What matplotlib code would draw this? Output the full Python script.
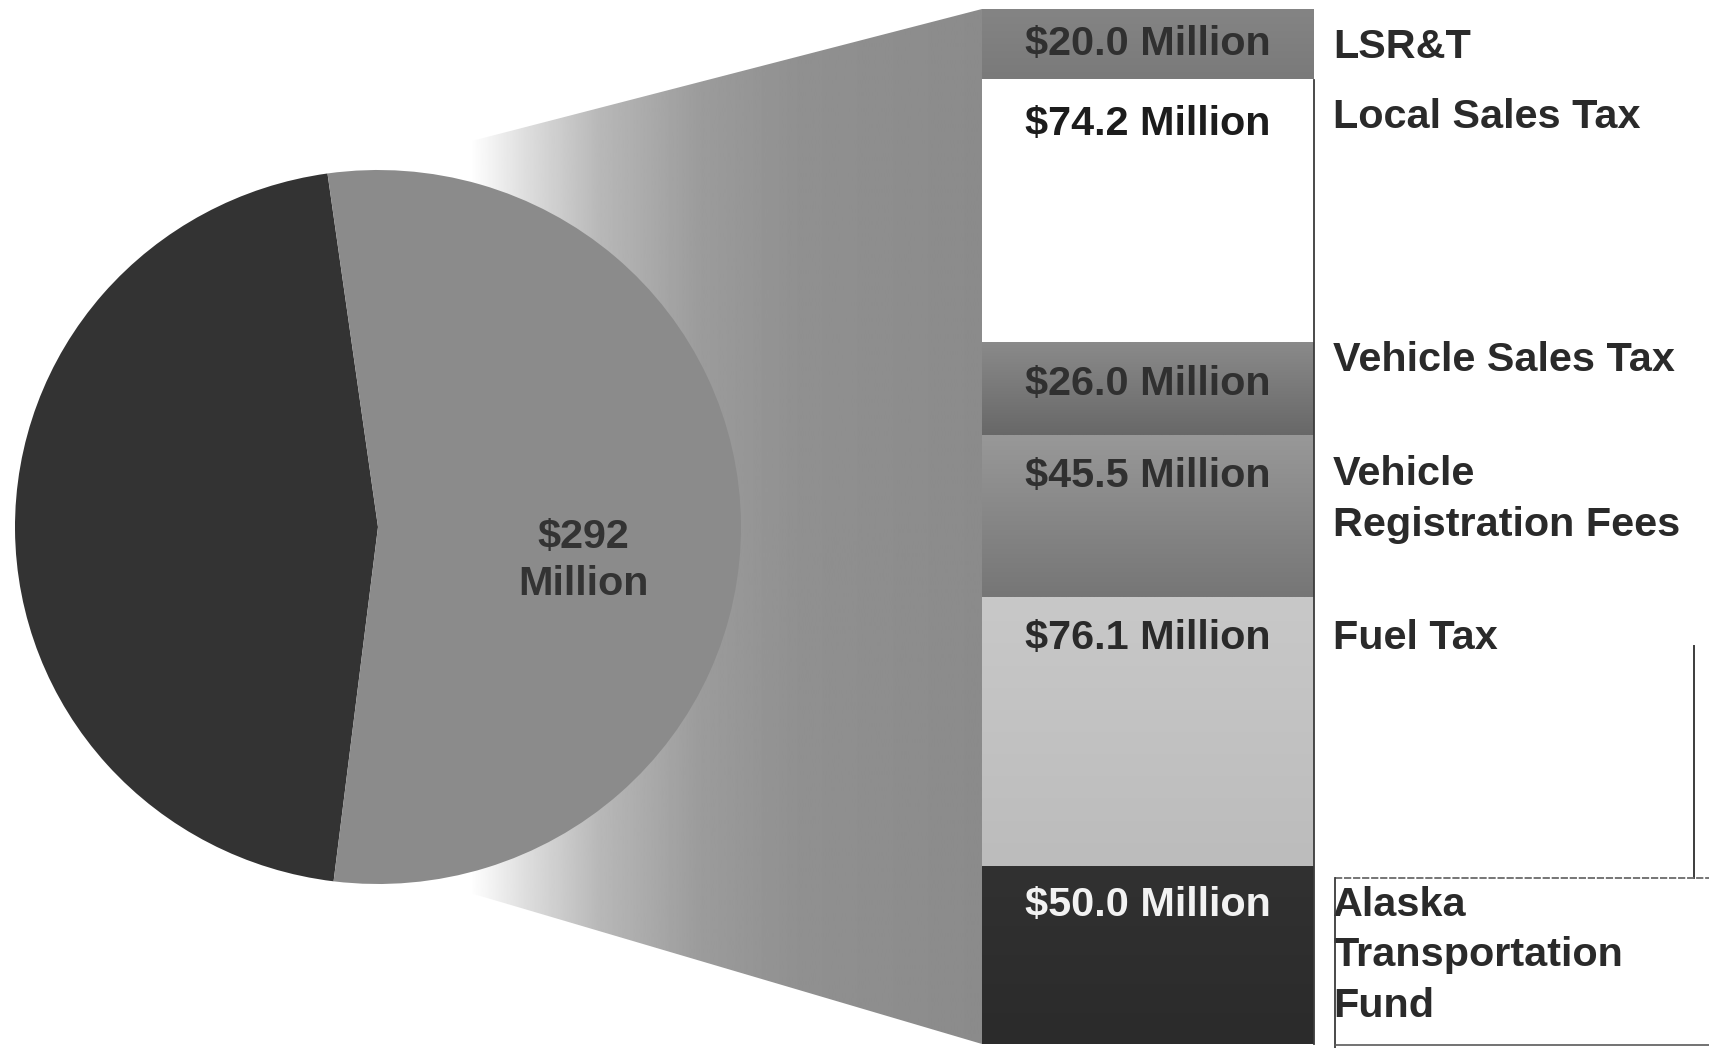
import numpy as np
import matplotlib
matplotlib.use("Agg")
import matplotlib.pyplot as plt
from matplotlib.patches import Polygon
from matplotlib.colors import to_rgb

plt.rcParams['font.family'] = ['Liberation Sans', 'DejaVu Sans']
plt.rcParams['font.weight'] = 'bold'

# ---- data (millions of dollars) ----
pie_values = [247, 292]
pie_label = "$292\nMillion"

categories = ["LSR&T", "Local Sales Tax", "Vehicle Sales Tax",
              "Vehicle\nRegistration Fees", "Fuel Tax",
              "Alaska\nTransportation\nFund"]
amounts = [20.0, 74.2, 26.0, 45.5, 76.1, 50.0]
amount_labels = ["$20.0 Million", "$74.2 Million", "$26.0 Million",
                 "$45.5 Million", "$76.1 Million", "$50.0 Million"]

# ---- styling ----
seg_top = ['#848484', '#ffffff', '#8a8a8a', '#989898', '#c8c8c8', '#313131']
seg_bot = ['#7a7a7a', '#ffffff', '#686868', '#767676', '#bcbcbc', '#2b2b2b']
value_colors = ['#303030', '#1c1c1c', '#303030', '#303030', '#2a2a2a', '#f2f2f2']
value_offset_px = [35, 44, 41, 41, 41, 38]      # label centre below segment top
name_offset_px = [38, 37, 17, 39, 41, 38]
line_gap_px = 50.5
FS = 29.8

W, H = 1709, 1048
fig = plt.figure(figsize=(W / 100, H / 100), dpi=100, facecolor='white')


def box(x0, y0, x1, y1):
    return [x0 / W, 1 - y1 / H, (x1 - x0) / W, (y1 - y0) / H]


# ---- background: shaded fan between pie and bar ----
bg = fig.add_axes([0, 0, 1, 1], zorder=0)
fan = Polygon([(460, 144), (982, 9), (982, 1044), (460, 890)], closed=True,
              facecolor='none', edgecolor='none')
bg.add_patch(fan)
xs = np.linspace(460, 982, 500)
shade = np.interp(xs, [470, 525, 600, 700, 800, 982],
                  [1.0, 0.87, 0.72, 0.61, 0.565, 0.545])
img = bg.imshow(shade[None, :], extent=[460, 982, 1044, 9], cmap='gray',
                vmin=0, vmax=1, aspect='auto', interpolation='bilinear')
img.set_clip_path(fan)
bg.set_xlim(0, W)
bg.set_ylim(H, 0)
bg.axis('off')

# ---- pie ----
pie_ax = fig.add_axes(box(378 - 363, 527 - 357, 378 + 363, 527 + 357), zorder=1)
pie_ax.pie(pie_values, colors=['#333333', '#8b8b8b'], startangle=98.0,
           counterclock=True, wedgeprops=dict(linewidth=0))
pie_ax.set_aspect('auto')
pie_ax.set_xlim(-1, 1)
pie_ax.set_ylim(-1, 1)
pie_ax.axis('off')
pie_ax.text(0.565, -0.095, pie_label, ha='center', va='center', fontsize=FS,
            fontweight='bold', color='#333333', linespacing=1.3)

# ---- stacked bar ----
bar_ax = fig.add_axes(box(982, 9, 1314, 1044), zorder=2)
total = sum(amounts)
bottoms = np.concatenate([[0], np.cumsum(amounts)[:-1]])
bars = bar_ax.bar(0, amounts, width=1.0, bottom=bottoms, color=seg_top,
                  linewidth=0)
for rect, c0, c1 in zip(bars, seg_top, seg_bot):
    y0 = rect.get_y()
    y1 = y0 + rect.get_height()
    t = np.linspace(0, 1, 64)[:, None, None]
    grad = (1 - t) * np.array(to_rgb(c0)) + t * np.array(to_rgb(c1))
    grad = np.repeat(grad, 2, axis=1)
    bar_ax.imshow(grad, extent=[-0.5, 0.5, y1, y0], aspect='auto',
                  interpolation='bilinear', zorder=2)
bar_ax.set_xlim(-0.5, 0.5)
bar_ax.set_ylim(total, 0)
bar_ax.axis('off')

px2pt = 0.72
for top, lab, col, off in zip(bottoms, amount_labels, value_colors, value_offset_px):
    bar_ax.annotate(lab, xy=(0, top), xytext=(0, -off * px2pt),
                    textcoords='offset points', ha='center', va='center',
                    fontsize=FS, fontweight='bold', color=col,
                    annotation_clip=False, zorder=5)

for top, name, off in zip(bottoms, categories, name_offset_px):
    for i, line in enumerate(name.split('\n')):
        bar_ax.annotate(line, xy=(0.5, top),
                        xytext=((1333 - 1314) * px2pt,
                                -(off + i * line_gap_px) * px2pt),
                        textcoords='offset points', ha='left', va='center',
                        fontsize=FS, fontweight='bold', color='#2a2a2a',
                        annotation_clip=False, zorder=5)

# ---- frame rules ----
ov = fig.add_axes([0, 0, 1, 1], zorder=3)
ov.set_xlim(0, W)
ov.set_ylim(H, 0)
ov.axis('off')
ov.patch.set_alpha(0)
ov.plot([1314, 1314], [80, 1044], color='#3c3c3c', lw=1.3)
ov.plot([1694, 1694], [646, 878], color='#3c3c3c', lw=1.4)
ov.plot([1335, W], [878, 878], color='#6a6a6a', lw=1.3, ls=(0, (4, 1)))
ov.plot([1335, 1335], [878, H], color='#3c3c3c', lw=1.3)
ov.plot([1335, W], [1045, 1045], color='#5a5a5a', lw=1.2)

fig.savefig('out.png', dpi=100, facecolor='white')
